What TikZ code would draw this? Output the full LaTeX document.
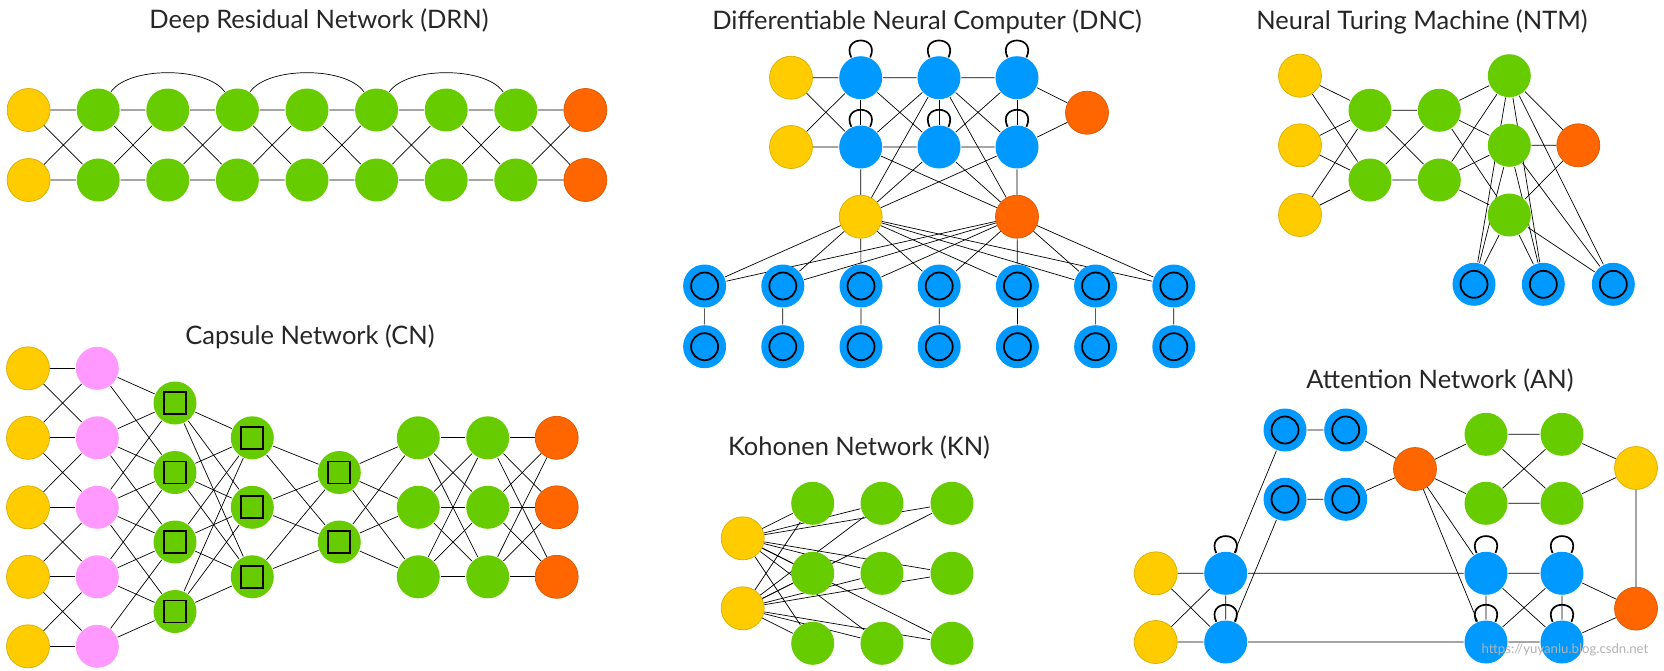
\documentclass[tikz,border=0pt]{standalone}
\usepackage{fontspec}
\setmainfont{Lato}
\usetikzlibrary{backgrounds}
\definecolor{nnyellow}{HTML}{FFCC00}
\definecolor{nngreen}{HTML}{66CC00}
\definecolor{nnblue}{HTML}{0099FF}
\definecolor{nnorange}{HTML}{FF6600}
\definecolor{nnpink}{HTML}{FF99FF}
\tikzset{
  cell/.style={circle,minimum size=0.86cm,inner sep=0pt},
  inp/.style={cell,fill=nnyellow,draw=nnyellow!85!black,line width=0.4pt},
  hid/.style={cell,fill=nngreen},
  outp/.style={cell,fill=nnorange,draw=nnorange!85!black,line width=0.4pt},
  rec/.style={cell,fill=nnblue},
  prob/.style={cell,fill=nnpink},
  mem/.style={cell,fill=nnblue,path picture={\draw[line width=1pt] (path picture bounding box.center) circle (0.27cm);}},
  caps/.style={cell,fill=nngreen,path picture={\draw[line width=1pt] ([shift={(-0.22cm,-0.22cm)}]path picture bounding box.center) rectangle ([shift={(0.22cm,0.22cm)}]path picture bounding box.center);}},
  title/.style={font=\fontsize{14.5}{16}\selectfont,text=black!85},
}
\newcommand\selfloop[1]{\draw (#1.115) .. controls +(115:0.5cm) and +(65:0.5cm) .. (#1.65);}
\begin{document}
\begin{tikzpicture}[x=0.02cm,y=-0.02cm,line width=0.95pt]
\useasboundingbox (0,0) rectangle (1664,670);

% deep residual network
\node[title] (drn) at (319,21) {Deep Residual Network (DRN)};
\foreach \i/\s in {0/inp,1/hid,2/hid,3/hid,4/hid,5/hid,6/hid,7/hid,8/outp} {
  \node[\s] (dt\i) at ({28.6+69.6*\i},110) {};
  \node[\s] (db\i) at ({28.6+69.6*\i},180) {};
}
\begin{scope}[on background layer]
  \foreach \i [count=\j] in {0,...,7}
    \draw (dt\i) -- (dt\j) (db\i) -- (db\j) (dt\i) -- (db\j) (db\i) -- (dt\j);
  \foreach \a/\b in {1/3,3/5,5/7}
    \draw (dt\a) to[out=55,in=125,looseness=0.7] (dt\b);
\end{scope}

% differentiable neural computer
\node[title] (dnc) at (927,21.7) {Differentiable Neural Computer (DNC)};
\node[inp] (dy1) at (791,77.7) {};
\node[inp] (dy2) at (791,147) {};
\foreach \c/\x in {1/860.7,2/939,3/1017} {
  \node[rec] (ca\c) at (\x,77.7) {};
  \node[rec] (cb\c) at (\x,147) {};
}
\node[outp] (co) at (1087,112.7) {};
\node[inp] (cr) at (860.7,216.7) {};
\node[outp] (cw) at (1017,216.7) {};
\foreach \k in {1,...,7} {
  \node[mem] (cm\k) at ({626.4+78.2*\k},286) {};
  \node[mem] (cn\k) at ({626.4+78.2*\k},346.7) {};
}
\begin{scope}[on background layer]
  \foreach \k in {1,...,7}
    \draw (cm\k) -- (cn\k) (cr) -- (cm\k) (cw) -- (cm\k);
  \draw (dy1) -- (ca1) -- (ca2) -- (ca3) -- (co) -- (cb3) -- (cb2) -- (cb1) -- (dy2);
  \draw (dy1) -- (cb1) (dy2) -- (ca1);
  \foreach \c in {1,2,3} \draw (ca\c) -- (cb\c);
  \draw (ca1) -- (cb2) (ca2) -- (cb1) (ca2) -- (cb3) (ca3) -- (cb2);
  \foreach \n in {cb1,ca2,cb2,cb3} \draw (cr) -- (\n) (cw) -- (\n);
\end{scope}
\foreach \n in {ca1,ca2,ca3,cb1,cb2,cb3} {\selfloop{\n}}

% neural turing machine
\node[title] (ntm) at (1422,21.7) {Neural Turing Machine (NTM)};
\foreach \i/\y in {1/75.7,2/145.3,3/215} {
  \node[inp] (ny\i) at (1300,\y) {};
  \node[hid] (nc\i) at (1509.3,\y) {};
}
\node[hid] (nh1) at (1370,110.3) {};
\node[hid] (nh2) at (1370,180) {};
\node[hid] (nh3) at (1439.3,110.3) {};
\node[hid] (nh4) at (1439.3,180) {};
\node[outp] (no) at (1578.3,145.3) {};
\foreach \k/\x in {1/1474,2/1543.3,3/1613.3} \node[mem] (nm\k) at (\x,284.3) {};
\begin{scope}[on background layer]
  \foreach \i in {1,2,3} {
    \draw (ny\i) -- (nh1) (ny\i) -- (nh2) (nc\i) -- (nh3) (nc\i) -- (nh4) (nc\i) -- (no);
    \foreach \k in {1,2,3} \draw (nc\i) -- (nm\k);
  }
  \draw (nh1) -- (nh3) (nh1) -- (nh4) (nh2) -- (nh3) (nh2) -- (nh4);
\end{scope}

% capsule network
\node[title] (cn) at (310,337) {Capsule Network (CN)};
\foreach \i in {1,...,5} {
  \node[inp] (py\i) at (28,{298.8+69.5*\i}) {};
  \node[prob] (pp\i) at (97.3,{298.8+69.5*\i}) {};
}
\foreach \j in {1,...,4} \node[caps] (pa\j) at (175,{333.5+69.5*\j}) {};
\foreach \j in {1,2,3} {
  \node[caps] (pb\j) at (252.3,{368.3+69.5*\j}) {};
  \node[hid] (pg\j) at (418.3,{368.3+69.5*\j}) {};
  \node[hid] (ph\j) at (487.7,{368.3+69.5*\j}) {};
  \node[outp] (po\j) at (556.7,{368.3+69.5*\j}) {};
}
\foreach \j in {1,2} \node[caps] (pc\j) at (339.3,{403+69.5*\j}) {};
\begin{scope}[on background layer]
  \foreach \i in {1,...,5} \draw (py\i) -- (pp\i);
  \foreach \i [count=\j from 2] in {1,...,4} \draw (py\i) -- (pp\j) (pp\i) -- (py\j);
  \foreach \i in {1,...,5} \foreach \j in {1,...,4} {
    \pgfmathtruncatemacro\ok{abs(\i-\j-0.5)<2}
    \ifnum\ok=1 \draw (pp\i) -- (pa\j); \fi
  }
  \foreach \i in {1,...,4} \foreach \j in {1,2,3} \draw (pa\i) -- (pb\j);
  \foreach \i in {1,2,3} \foreach \j in {1,2} \draw (pb\i) -- (pc\j);
  \foreach \i in {1,2} \foreach \j in {1,2,3} \draw (pc\i) -- (pg\j);
  \foreach \i in {1,2,3} \foreach \j in {1,2,3} \draw (pg\i) -- (ph\j) (ph\i) -- (po\j);
\end{scope}

% kohonen network
\node[title] (kn) at (859,447) {Kohonen Network (KN)};
\node[inp] (ky1) at (742.7,538.3) {};
\node[inp] (ky2) at (742.7,608.3) {};
\foreach \c/\x in {1/812.7,2/882,3/952}
  \foreach \r/\y in {1/503.3,2/573.3,3/643.3}
    \node[hid] (kg\c\r) at (\x,\y) {};
\begin{scope}[on background layer]
  \foreach \c in {1,2,3} \foreach \r in {1,2,3}
    \draw (ky1) -- (kg\c\r) (ky2) -- (kg\c\r);
\end{scope}

% attention network
\node[title] (an) at (1440,380) {Attention Network (AN)};
\node[inp] (ay1) at (1155.7,573.3) {};
\node[inp] (ay2) at (1155.7,642) {};
\node[rec] (al1) at (1225.7,573.3) {};
\node[rec] (al2) at (1225.7,642) {};
\node[mem] (am1) at (1285,430) {};
\node[mem] (am2) at (1345.7,430) {};
\node[mem] (am3) at (1285,499.3) {};
\node[mem] (am4) at (1345.7,499.3) {};
\node[outp] (ao) at (1415,469) {};
\node[hid] (ag1) at (1486,434.3) {};
\node[hid] (ag2) at (1486,503.3) {};
\node[hid] (ag3) at (1562,434.3) {};
\node[hid] (ag4) at (1562,503.3) {};
\node[inp] (aq) at (1636,468) {};
\node[rec] (ar1) at (1486,573.3) {};
\node[rec] (ar2) at (1486,642) {};
\node[rec] (ar3) at (1562,573.3) {};
\node[rec] (ar4) at (1562,642) {};
\node[outp] (af) at (1636,608.6) {};
\begin{scope}[on background layer]
  \draw (ay1) -- (al1) -- (ar1) -- (ar3) -- (af) -- (ar4) -- (ar2) -- (al2) -- (ay2);
  \draw (ay1) -- (al2) (ay2) -- (al1) (al1) -- (al2);
  \draw (ar1) -- (ar2) (ar3) -- (ar4) (ar1) -- (ar4) (ar2) -- (ar3);
  \draw (al1) -- (am1) -- (am2) -- (ao) -- (am4) -- (am3) -- (al2);
  \draw (ao) -- (ag1) -- (ag3) -- (aq) -- (ag4) -- (ag2) -- (ao);
  \draw (ag1) -- (ag4) (ag2) -- (ag3) (aq) -- (af) (ao) -- (ar1) (ao) -- (ar2);
\end{scope}
\foreach \n in {al1,al2,ar1,ar2,ar3,ar4} {\selfloop{\n}}

\node[text=black!30,font=\fontsize{7.5}{9}\selectfont] (wm) at (1565,650) {https://yuyanlu.blog.csdn.net};
\end{tikzpicture}
\end{document}
